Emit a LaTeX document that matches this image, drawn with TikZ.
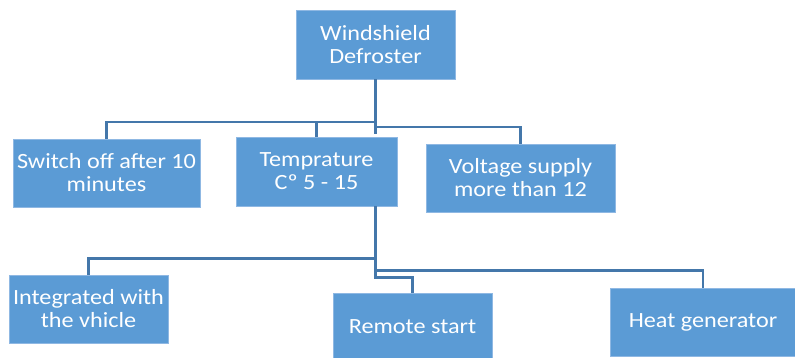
\documentclass[tikz,border=0pt]{standalone}
\usepackage{fontspec}
\setmainfont[FakeStretch=1.115]{Carlito}
\definecolor{boxblue}{HTML}{5B9BD5}
\definecolor{boxedge}{HTML}{8FB8E3}
\definecolor{linkblue}{HTML}{4477AA}
\begin{document}
\begin{tikzpicture}[x=1pt,y=-1pt,
  box/.style={draw=boxedge,line width=0.8pt,fill=boxblue,text=white,align=center,
    inner sep=0pt,font=\fontsize{21.7}{23}\selectfont},
  conn/.style={draw=linkblue,line width=2.2pt}]
\useasboundingbox (0,0) rectangle (795,358);
\node[box,minimum width=159pt,minimum height=69pt] (root) at (375.5,44.5) {Windshield\\Defroster};
\node[box,minimum width=187pt,minimum height=68pt] (switch) at (106.5,173) {Switch off after 10\\minutes};
\node[box,minimum width=161pt,minimum height=69pt] (temp) at (316.5,171.5) {Temprature\\Cº 5 - 15};
\node[box,minimum width=189pt,minimum height=68pt] (volt) at (520.5,178) {Voltage supply\\more than 12};
\node[box,minimum width=159pt,minimum height=68pt] (integ) at (88.5,309) {Integrated with\\the vhicle};
\node[box,minimum width=159pt,minimum height=68pt] (remote) at (412.5,327) {Remote start};
\node[box,minimum width=186pt,minimum height=68pt] (heat) at (703,322) {Heat generator};
\coordinate (hubA) at (root.south);
\coordinate (hubB) at (root.south |- temp.south);
\draw[conn] (hubA) -- ++(0,55);
\draw[conn] (hubA) -- ++(0,43) -| (switch.north);
\draw[conn] (hubA) -- ++(0,43) -| (temp.north);
\draw[conn] (hubA) -- ++(0,48) -| (volt.north);
\draw[conn] (hubB) -- ++(0,52) -| (integ.north);
\draw[conn] (hubB) -- ++(0,71) -| (remote.north);
\draw[conn] (hubB) -- ++(0,64) -| (heat.north);
\end{tikzpicture}
\end{document}
